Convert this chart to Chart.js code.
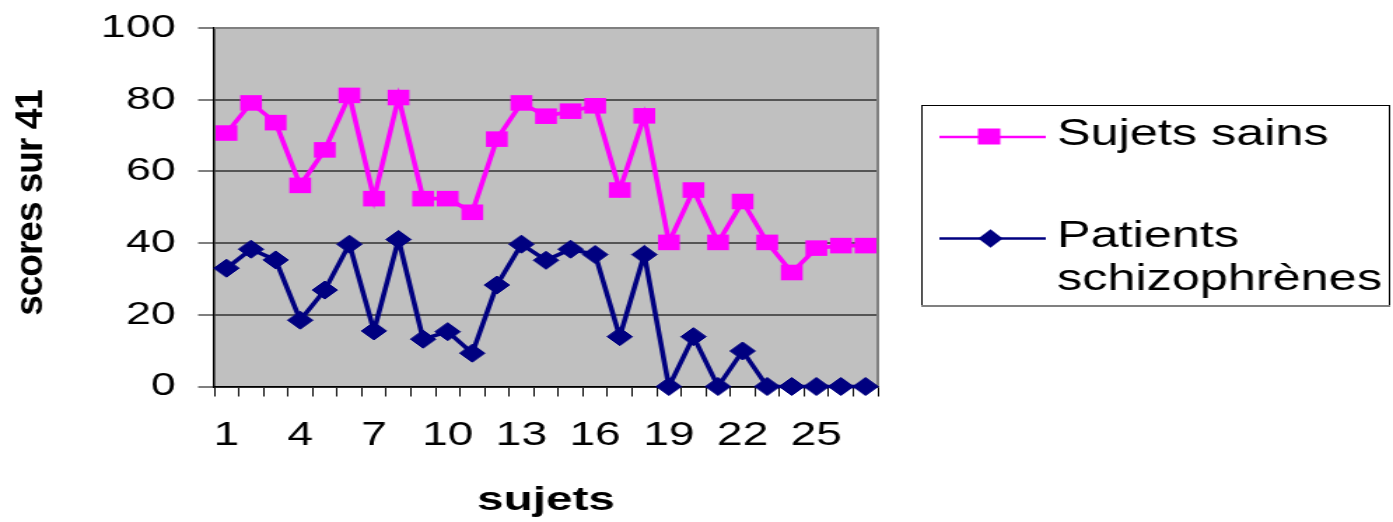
<!DOCTYPE html>
<html>
<head>
<meta charset="utf-8">
<script src="https://cdn.jsdelivr.net/npm/chart.js@4.4.0/dist/chart.umd.min.js"></script>
<style>
  html, body { margin: 0; padding: 0; background: #fff; overflow: hidden; }
  /* the chart is laid out narrow and widened horizontally, giving the broad lettering and flattened markers */
  #wrap { position: absolute; left: 0; top: 0; width: 995px; height: 522px; transform: scaleX(1.4); transform-origin: 0 0; }
  canvas { display: block; }
</style>
</head>
<body>
<div id="wrap"><canvas id="c" width="995" height="522"></canvas></div>
<script>
// subjects 1..27
const categories = ['1','2','3','4','5','6','7','8','9','10','11','12','13','14','15','16','17','18','19','20','21','22','23','24','25','26','27'];
const shownTicks = ['1','4','7','10','13','16','19','22','25'];
const yTicks = [0, 20, 40, 60, 80, 100];

// scores (percent of 41)
const sujetsSains = [70.7, 79.1, 73.6, 56.1, 66.0, 81.2, 52.4, 80.6, 52.4, 52.4, 48.6, 69.0, 79.1, 75.4, 76.8, 78.3, 54.8, 75.5, 40.2, 54.8, 40.2, 51.6, 40.2, 31.8, 38.6, 39.3, 39.3];
const patientsSchizo = [33.0, 38.3, 35.3, 18.5, 26.9, 39.7, 15.5, 41.0, 13.2, 15.3, 9.3, 28.3, 39.7, 35.2, 38.3, 36.8, 13.9, 36.8, 0, 13.9, 0, 9.9, 0, 0, 0, 0, 0];

const legendSains = ['Sujets sains'];
const legendPatients = ['Patients', 'schizophrènes'];

const MAGENTA = '#ff00ff';
const NAVY = '#000080';
const FONT = "'Liberation Sans', Arial, Helvetica, sans-serif";

Chart.defaults.font.family = FONT;
Chart.defaults.color = '#000';

// grey plotting area
const plotBackground = {
  id: 'plotBackground',
  beforeDraw(chart) {
    const { ctx, chartArea: a } = chart;
    ctx.save();
    ctx.fillStyle = '#c0c0c0';
    ctx.fillRect(a.left, a.top, a.right - a.left, a.bottom - a.top);
    ctx.restore();
  },
  beforeDatasetsDraw(chart) {
    const { ctx, chartArea: a } = chart;
    ctx.save();
    ctx.strokeStyle = '#808080';
    ctx.lineWidth = 2;
    ctx.beginPath();
    ctx.moveTo(a.left, a.top);
    ctx.lineTo(a.right, a.top);
    ctx.lineTo(a.right, a.bottom);
    ctx.stroke();
    ctx.restore();
  }
};

// rotated y title and the boxed legend on the right
const extras = {
  id: 'extras',
  afterDraw(chart) {
    const { ctx } = chart;
    ctx.save();
    ctx.translate(22.5, 203);
    ctx.rotate(-Math.PI / 2);
    ctx.scale(1, 0.76);
    ctx.font = 'bold 37px ' + FONT;
    if ('letterSpacing' in ctx) ctx.letterSpacing = '-1px';
    ctx.fillStyle = '#000';
    ctx.textAlign = 'center';
    ctx.textBaseline = 'middle';
    ctx.fillText('scores sur 41', 0, 0);
    ctx.restore();

    // legend box
    const bx = 658, by = 105, bw = 335, bh = 201;
    ctx.save();
    ctx.fillStyle = '#fff';
    ctx.fillRect(bx, by, bw, bh);
    ctx.strokeStyle = '#000';
    ctx.lineWidth = 1;
    ctx.strokeRect(bx + 0.5, by + 0.5, bw - 1, bh - 1);
    ctx.strokeStyle = '#808080';
    ctx.lineWidth = 2;
    ctx.beginPath();
    ctx.moveTo(bx, by + bh);
    ctx.lineTo(bx + bw, by + bh);
    ctx.stroke();

    // sample: Sujets sains
    ctx.strokeStyle = MAGENTA;
    ctx.lineWidth = 2.5;
    ctx.beginPath();
    ctx.moveTo(671, 137);
    ctx.lineTo(747, 137);
    ctx.stroke();
    ctx.fillStyle = MAGENTA;
    ctx.fillRect(698.5, 128.5, 16, 16);

    // sample: Patients schizophrènes
    ctx.strokeStyle = NAVY;
    ctx.beginPath();
    ctx.moveTo(671, 238.5);
    ctx.lineTo(747, 238.5);
    ctx.stroke();
    ctx.fillStyle = NAVY;
    ctx.beginPath();
    ctx.moveTo(707.5 - 8.7, 238.5);
    ctx.lineTo(707.5, 238.5 - 9.2);
    ctx.lineTo(707.5 + 8.7, 238.5);
    ctx.lineTo(707.5, 238.5 + 9.2);
    ctx.closePath();
    ctx.fill();

    ctx.fillStyle = '#000';
    ctx.font = '36px ' + FONT;
    ctx.textAlign = 'left';
    ctx.textBaseline = 'alphabetic';
    ctx.fillText(legendSains[0], 755, 144.5);
    ctx.fillText(legendPatients[0], 755, 247);
    ctx.fillText(legendPatients[1], 755, 289.5);
    ctx.restore();
  }
};

new Chart(document.getElementById('c'), {
  type: 'line',
  data: {
    labels: categories,
    datasets: [
      {
        label: 'Sujets sains',
        data: sujetsSains,
        borderColor: MAGENTA,
        backgroundColor: MAGENTA,
        borderWidth: 3.6,
        pointStyle: 'rect',
        pointRadius: 11,
        pointBorderWidth: 0,
        pointBackgroundColor: MAGENTA,
        tension: 0,
        fill: false
      },
      {
        label: 'Patients schizophrènes',
        data: patientsSchizo,
        borderColor: NAVY,
        backgroundColor: NAVY,
        borderWidth: 3.6,
        pointStyle: 'rectRot',
        pointRadius: 9,
        pointBorderWidth: 1,
        pointBorderColor: NAVY,
        pointBackgroundColor: NAVY,
        tension: 0,
        fill: false
      }
    ]
  },
  options: {
    responsive: false,
    animation: false,
    devicePixelRatio: 1,
    events: [],
    clip: false,
    layout: { padding: { top: 28, right: 368, left: 0, bottom: 0 } },
    plugins: {
      legend: { display: false },
      tooltip: { enabled: false },
      title: { display: false }
    },
    scales: {
      x: {
        type: 'category',
        offset: true,
        afterFit(scale) {
          scale.height = 135.5;
          scale.paddingLeft = 0;
          scale.paddingRight = 0;
        },
        grid: {
          display: true,
          offset: true,
          drawOnChartArea: false,
          drawTicks: true,
          tickLength: 10,
          tickColor: '#000',
          lineWidth: 1
        },
        border: { display: true, color: '#000', width: 1.5 },
        ticks: {
          autoSkip: false,
          maxRotation: 0,
          minRotation: 0,
          padding: 20,
          color: '#000',
          font: { size: 33 },
          callback(value, index) {
            const c = categories[index];
            return shownTicks.includes(c) ? c : '';
          }
        },
        title: {
          display: true,
          text: 'sujets',
          color: '#000',
          font: { size: 34, weight: 'bold' },
          padding: { top: 0, bottom: 1 }
        }
      },
      y: {
        min: 0,
        max: 100,
        afterFit(scale) {
          scale.width = 153;
          scale.paddingTop = 0;
          scale.paddingBottom = 0;
        },
        afterBuildTicks(scale) { scale.ticks = yTicks.map(v => ({ value: v })); },
        grid: {
          color: '#555555',
          lineWidth: 2,
          tickLength: 11.5,
          tickColor: '#555555',
          tickWidth: 1.5
        },
        border: { display: true, color: '#000', width: 1.5 },
        ticks: {
          padding: 16,
          color: '#000',
          font: { size: 32 }
        }
      }
    }
  },
  plugins: [plotBackground, extras]
});
</script>
</body>
</html>
